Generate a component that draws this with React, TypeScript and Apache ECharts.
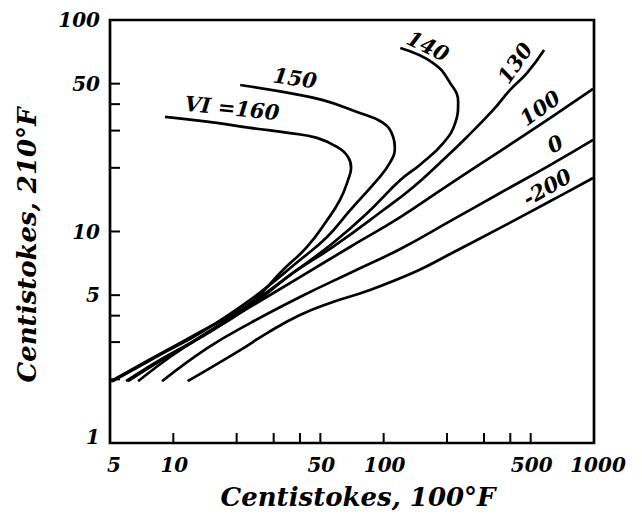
import React, { useEffect, useRef } from "react";
import * as echarts from "echarts";

// Viscosity at 100°F (x) vs 210°F (y), cSt, per Viscosity Index curve
const vi160: [number, number][] = [
  [5.0, 1.95], [8.64, 2.64], [13.4, 3.35], [23.2, 4.59], [33.2, 6.58], [43.2, 8.45],
  [53.8, 11.3], [62.0, 14.1], [67.7, 17.5], [70.0, 20.0], [67.7, 22.5], [60.0, 25.1],
  [48.2, 27.7], [35.9, 29.2], [23.2, 30.9], [16.1, 32.6], [9.13, 34.8],
];
const vi150: [number, number][] = [
  [5.11, 1.95], [8.64, 2.61], [13.4, 3.31], [23.2, 4.75], [40.0, 7.33], [53.8, 9.42],
  [69.2, 12.6], [93.0, 17.5], [107, 21.1], [113, 24.8], [111, 28.0], [99.4, 32.6],
  [74.7, 36.7], [51.5, 41.8], [33.2, 45.7], [20.8, 49.3],
];
const vi140: [number, number][] = [
  [5.96, 1.96], [8.64, 2.47], [13.4, 3.17], [23.2, 4.54], [38.7, 6.58], [57.4, 8.82],
  [83.4, 12.2], [120, 17.5], [150, 20.8], [192, 26.2], [219, 32.6], [226, 41.0],
  [207, 50.4], [172, 62.6], [120, 73.7],
];
const vi130: [number, number][] = [
  [6.09, 1.96], [8.64, 2.44], [13.4, 3.14], [23.2, 4.44], [37.1, 6.37], [57.4, 8.45],
  [99.4, 12.6], [138, 16.2], [185, 21.1], [249, 28.0], [331, 37.5], [399, 46.7],
  [481, 56.2], [579, 72.1],
];
const vi100: [number, number][] = [
  [6.8, 1.96], [9.65, 2.55], [13.4, 3.17], [23.2, 4.4], [40.0, 6.09], [69.2, 8.45],
  [120, 11.7], [207, 16.8], [358, 24.0], [618, 34.4], [990, 47.2],
];
const vi0: [number, number][] = [
  [8.84, 1.96], [14.5, 2.81], [23.2, 3.69], [40.0, 4.9], [69.2, 6.37], [120, 8.27],
  [207, 11.2], [358, 15.2], [618, 20.6], [990, 27.1],
];
const viMinus200: [number, number][] = [
  [11.7, 1.96], [20.8, 2.75], [27.9, 3.31], [40.0, 4.03], [57.4, 4.64], [83.4, 5.23],
  [144, 6.51], [207, 7.83], [358, 10.4], [618, 13.9], [990, 17.9],
];

const curveNames = ["VI =160", "150", "140", "130", "100", "0", "-200"];
const xTickValues = [10, 20, 30, 40, 50, 100, 200, 300, 400, 500];
const yTickValues = [2, 3, 4, 5, 10, 20, 30, 40, 50];
const xLabelValues = [5, 10, 50, 100, 500, 1000];
const yLabelValues = [1, 5, 10, 50, 100];
const xTitle = "Centistokes, 100°F";
const yTitle = "Centistokes, 210°F";

const FONT = '"DejaVu Serif", "Liberation Serif", serif';

export default function App() {
  const ref = useRef<HTMLDivElement>(null);
  useEffect(() => {
    if (!ref.current) return;
    const chart = echarts.init(ref.current, undefined, { renderer: "svg" });
    const curves = [vi160, vi150, vi140, vi130, vi100, vi0, viMinus200];
    const lineSeries = curves.map((d, i) => ({
      name: curveNames[i],
      type: "line",
      data: d,
      smooth: 0.45,
      showSymbol: false,
      silent: true,
      lineStyle: { color: "#000", width: 2.7 },
      z: 3,
    }));
    const tickStyle = { stroke: "#000", lineWidth: 2 };
    const labelFont = {
      fontFamily: FONT,
      fontStyle: "italic",
      fontWeight: "bold",
      fontSize: 20,
      fill: "#000",
    };
    const centered = { align: "center", verticalAlign: "middle" };
    const option: any = {
      animation: false,
      backgroundColor: "#fff",
      grid: {
        left: 110,
        right: 48,
        top: 20,
        bottom: 72,
        show: true,
        borderColor: "#000",
        borderWidth: 2.7,
        backgroundColor: "transparent",
      },
      xAxis: {
        type: "log",
        logBase: 10,
        min: 5,
        max: 1000,
        axisLine: { show: false },
        axisTick: { show: false },
        axisLabel: { show: false },
        splitLine: { show: false },
      },
      yAxis: {
        type: "log",
        logBase: 10,
        min: 1,
        max: 100,
        axisLine: { show: false },
        axisTick: { show: false },
        axisLabel: { show: false },
        splitLine: { show: false },
      },
      series: [
        ...lineSeries,
        {
          type: "custom",
          clip: false,
          silent: true,
          data: xTickValues.map((v) => [v, 1]),
          renderItem: (_p: any, api: any) => {
            const c = api.coord([api.value(0), 1]);
            return {
              type: "line",
              shape: { x1: c[0], y1: c[1], x2: c[0], y2: c[1] - 10 },
              style: tickStyle,
            };
          },
        },
        {
          type: "custom",
          clip: false,
          silent: true,
          data: yTickValues.map((v) => [5, v]),
          renderItem: (_p: any, api: any) => {
            const c = api.coord([5, api.value(1)]);
            return {
              type: "line",
              shape: { x1: c[0], y1: c[1], x2: c[0] + 10, y2: c[1] },
              style: tickStyle,
            };
          },
        },
        {
          type: "custom",
          clip: false,
          silent: true,
          data: xLabelValues.map((v) => [v, 1]),
          renderItem: (_p: any, api: any) => {
            const v = api.value(0);
            const c = api.coord([v, 1]);
            return {
              type: "text",
              x: c[0] + (v === 5 ? 4 : v === 1000 ? 4 : 1),
              y: c[1] + 22,
              style: { ...labelFont, text: String(v), ...centered },
            };
          },
        },
        {
          type: "custom",
          clip: false,
          silent: true,
          data: yLabelValues.map((v) => [5, v]),
          renderItem: (_p: any, api: any) => {
            const v = api.value(1);
            const c = api.coord([5, v]);
            return {
              type: "text",
              x: c[0] - 10,
              y: c[1] - (v === 1 ? 6 : 0),
              style: { ...labelFont, text: String(v), align: "right", verticalAlign: "middle" },
            };
          },
        },
      ],
      graphic: [
        {
          type: "text",
          x: 358,
          y: 497,
          style: { ...labelFont, fontSize: 26, text: xTitle, ...centered },
        },
        {
          type: "text",
          x: 27,
          y: 245,
          rotation: Math.PI / 2,
          style: { ...labelFont, fontSize: 26, text: yTitle, ...centered },
        },
        { type: "text", x: 232, y: 108, rotation: -0.1, style: { ...labelFont, fontSize: 21, text: curveNames[0], ...centered } },
        { type: "text", x: 295, y: 78, rotation: -0.14, style: { ...labelFont, fontSize: 21, text: curveNames[1], ...centered } },
        { type: "text", x: 428, y: 46, rotation: -0.45, style: { ...labelFont, fontSize: 21, text: curveNames[2], ...centered } },
        { type: "text", x: 515, y: 63, rotation: 0.96, style: { ...labelFont, fontSize: 21, text: curveNames[3], ...centered } },
        { type: "text", x: 540, y: 108, rotation: 0.62, style: { ...labelFont, fontSize: 21, text: curveNames[4], ...centered } },
        { type: "text", x: 555, y: 144, rotation: 0.5, style: { ...labelFont, fontSize: 21, text: curveNames[5], ...centered } },
        { type: "text", x: 547, y: 187, rotation: 0.52, style: { ...labelFont, fontSize: 21, text: curveNames[6], ...centered } },
      ],
    };
    chart.setOption(option);
    return () => chart.dispose();
  }, []);
  return (
    <div
      ref={ref}
      style={{ position: "absolute", left: 0, top: 0, width: 642, height: 515, background: "#fff" }}
    />
  );
}
